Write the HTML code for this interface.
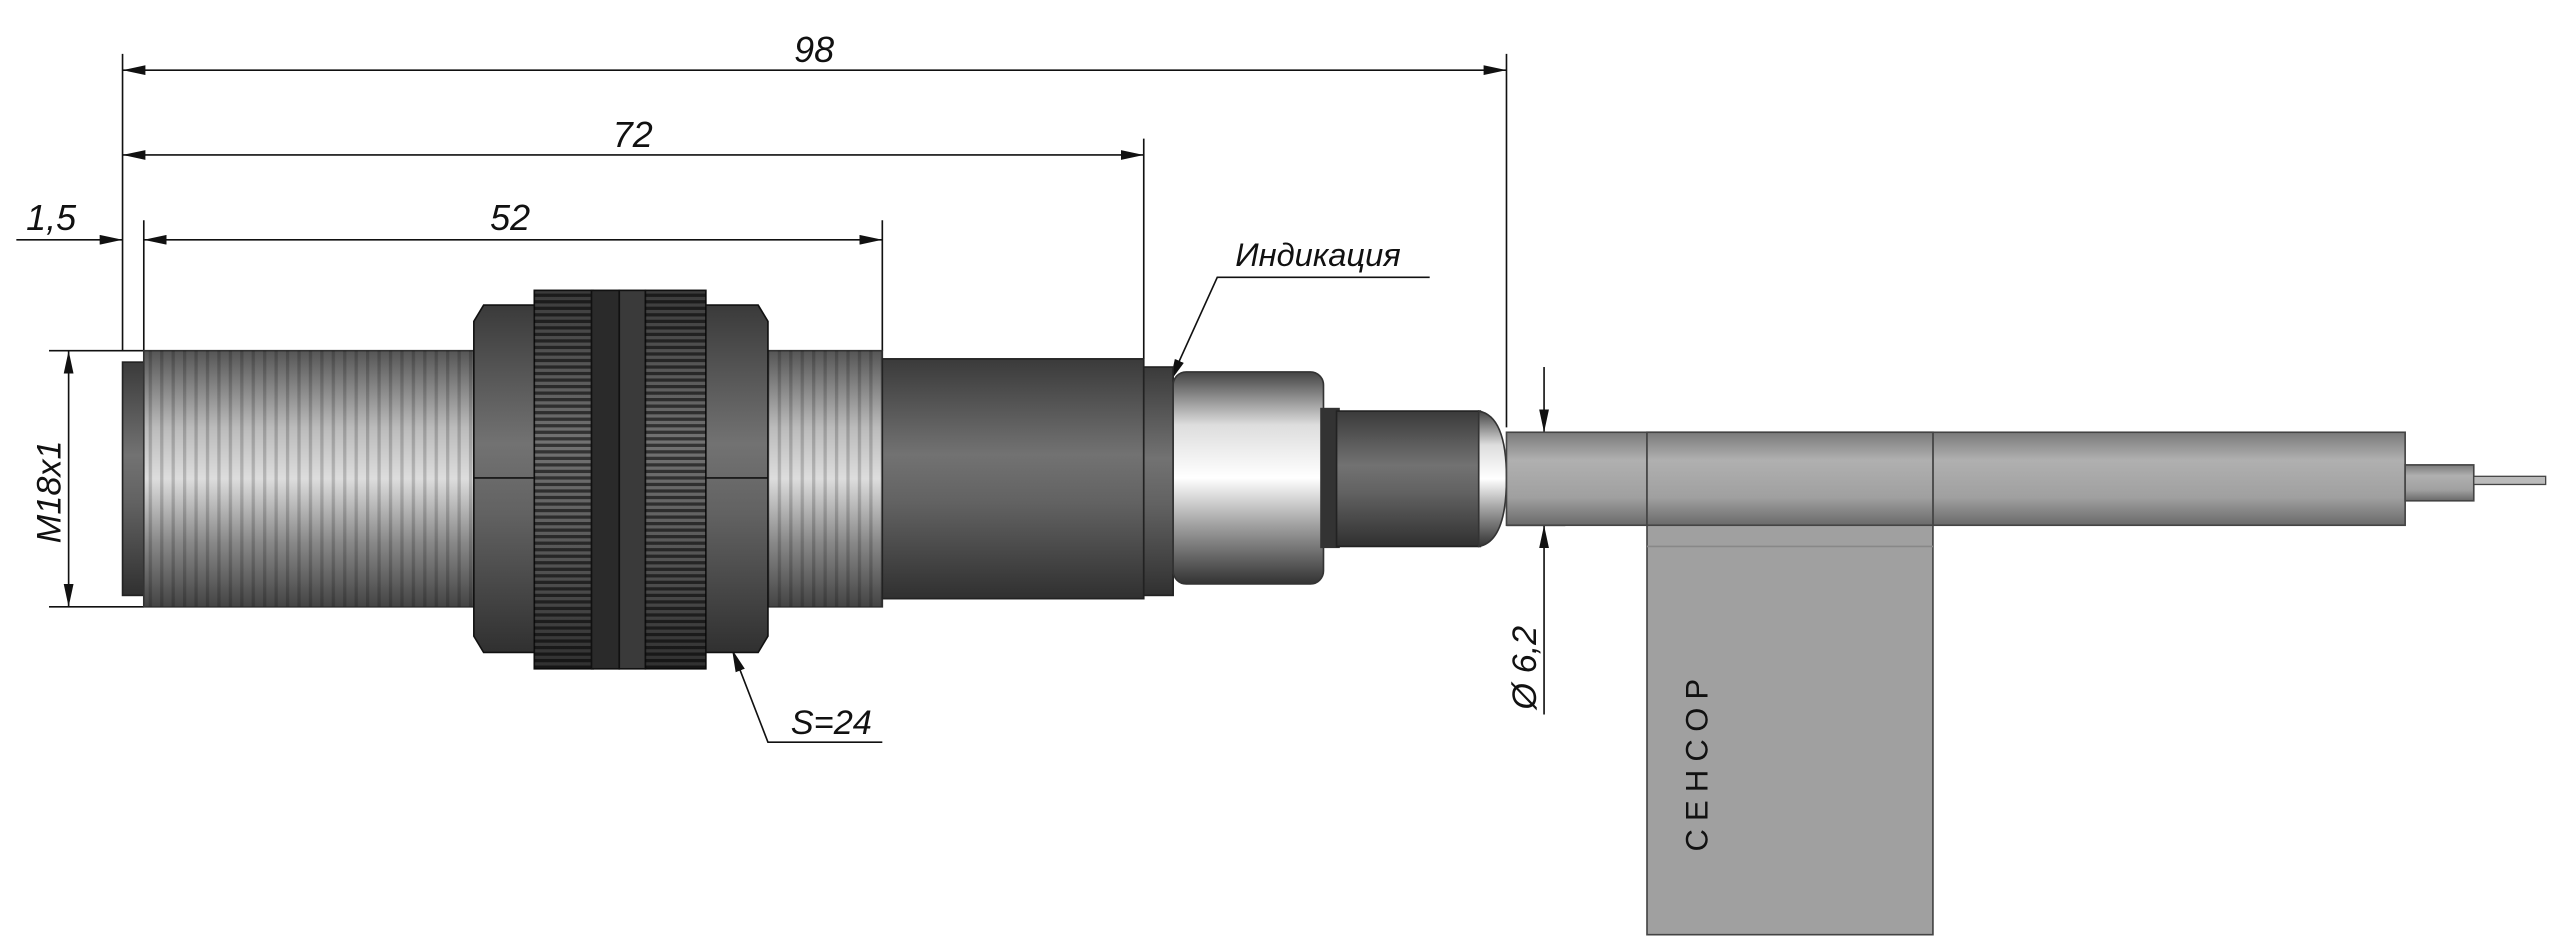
<!DOCTYPE html>
<html><head><meta charset="utf-8"><style>
html,body{margin:0;padding:0;background:#fff;}
svg{display:block;}
text{font-family:"Liberation Sans",sans-serif;font-style:italic;fill:#111;}
</style></head><body>
<svg width="2562" height="951" viewBox="0 0 1568 583" preserveAspectRatio="none" xmlns="http://www.w3.org/2000/svg">
<defs>
<marker id="a" markerWidth="14" markerHeight="6" refX="14" refY="3" orient="auto-start-reverse" markerUnits="userSpaceOnUse"><path d="M0,0 L14,3 L0,6 z" fill="#111"/></marker>
<linearGradient id="cyl" x1="0" y1="0" x2="0" y2="1">
<stop offset="0" stop-color="#555"/><stop offset="0.3" stop-color="#bbb"/><stop offset="0.5" stop-color="#ddd"/><stop offset="0.75" stop-color="#888"/><stop offset="1" stop-color="#444"/></linearGradient>
<linearGradient id="dark" x1="0" y1="0" x2="0" y2="1">
<stop offset="0" stop-color="#3a3a3a"/><stop offset="0.4" stop-color="#727272"/><stop offset="0.6" stop-color="#626262"/><stop offset="1" stop-color="#303030"/></linearGradient>
<linearGradient id="met" x1="0" y1="0" x2="0" y2="1">
<stop offset="0" stop-color="#444"/><stop offset="0.25" stop-color="#ddd"/><stop offset="0.5" stop-color="#fff"/><stop offset="0.7" stop-color="#aaa"/><stop offset="1" stop-color="#333"/></linearGradient>
<linearGradient id="cab" x1="0" y1="0" x2="0" y2="1">
<stop offset="0" stop-color="#7a7a7a"/><stop offset="0.3" stop-color="#b0b0b0"/><stop offset="0.7" stop-color="#a0a0a0"/><stop offset="1" stop-color="#6a6a6a"/></linearGradient>
<pattern id="thr" width="7" height="200" patternUnits="userSpaceOnUse"><rect x="0" width="2" height="200" fill="#000" opacity="0.18"/></pattern>
<pattern id="kn2" width="200" height="4" patternUnits="userSpaceOnUse"><rect y="0" width="200" height="2" fill="#000" opacity="0.55"/></pattern>
</defs>
<g stroke="#111" stroke-width="1" fill="none">
<line x1="75" y1="33" x2="75" y2="215"/><line x1="88" y1="135" x2="88" y2="215"/>
<line x1="540" y1="135" x2="540" y2="215"/><line x1="700" y1="85" x2="700" y2="220"/>
<line x1="922" y1="33" x2="922" y2="262"/>
<line x1="30" y1="215" x2="88" y2="215"/><line x1="30" y1="372" x2="88" y2="372"/>
<line x1="922" y1="265" x2="958" y2="265"/><line x1="922" y1="322" x2="958" y2="322"/>
<line x1="75" y1="43" x2="922" y2="43" marker-start="url(#a)" marker-end="url(#a)"/>
<line x1="75" y1="95" x2="700" y2="95" marker-start="url(#a)" marker-end="url(#a)"/>
<line x1="88" y1="147" x2="540" y2="147" marker-start="url(#a)" marker-end="url(#a)"/>
<line x1="10" y1="147" x2="75" y2="147" marker-end="url(#a)"/>
<line x1="42" y1="215" x2="42" y2="372" marker-start="url(#a)" marker-end="url(#a)"/>
<line x1="945" y1="225" x2="945" y2="265" marker-end="url(#a)"/>
<line x1="945" y1="438" x2="945" y2="322" marker-end="url(#a)"/>
<polyline points="875,170 745,170 716,234" marker-end="url(#a)"/>
<polyline points="540,455 470,455 448,398" marker-end="url(#a)"/>
</g>
<text x="486" y="38" font-size="22">98</text>
<text x="375" y="90" font-size="22">72</text>
<text x="300" y="141" font-size="22">52</text>
<text x="16" y="141" font-size="22">1,5</text>
<text x="756" y="163" font-size="20">Индикация</text>
<text x="484" y="450" font-size="21">S=24</text>
<text transform="translate(37,333) rotate(-90)" font-size="21">M18x1</text>
<text transform="translate(940,435) rotate(-90)" font-size="21">Ø 6,2</text>

<rect x="75" y="222" width="14" height="143" fill="url(#dark)" stroke="#222"/>
<rect x="88" y="215" width="452" height="157" fill="url(#cyl)" stroke="#333"/>
<rect x="88" y="215" width="452" height="157" fill="url(#thr)"/>
<rect x="540" y="220" width="160" height="147" fill="url(#dark)" stroke="#222"/>
<polygon points="296,187 330,187 330,400 296,400 290,390 290,197" fill="url(#dark)" stroke="#111"/>
<polygon points="430,187 464,187 470,197 470,390 464,400 430,400" fill="url(#dark)" stroke="#111"/>
<line x1="290" y1="293" x2="330" y2="293" stroke="#111"/><line x1="430" y1="293" x2="470" y2="293" stroke="#111"/>
<rect x="327" y="178" width="36" height="232" fill="url(#dark)" stroke="#111"/>
<rect x="327" y="178" width="36" height="232" fill="url(#kn2)"/>
<rect x="362" y="178" width="17" height="232" fill="#2a2a2a" stroke="#111"/>
<rect x="379" y="178" width="16" height="232" fill="#3a3a3a" stroke="#111"/>
<rect x="395" y="178" width="37" height="232" fill="url(#dark)" stroke="#111"/>
<rect x="395" y="178" width="37" height="232" fill="url(#kn2)"/>
<rect x="700" y="225" width="18" height="140" fill="url(#dark)" stroke="#222"/>
<rect x="718" y="228" width="92" height="130" rx="8" fill="url(#met)" stroke="#333"/>
<rect x="808" y="250" width="12" height="86" fill="#333"/>
<rect x="818" y="252" width="88" height="83" fill="url(#dark)" stroke="#222"/>
<path d="M905,252 Q922,255 922,293 Q922,332 905,335 z" fill="url(#met)" stroke="#333"/>
<rect x="922" y="265" width="550" height="57" fill="url(#cab)" stroke="#444"/>
<rect x="1472" y="285" width="42" height="22" fill="url(#cab)" stroke="#444"/>
<rect x="1514" y="292" width="44" height="5" fill="#bbb" stroke="#444" stroke-width="0.8"/>
<rect x="1008" y="265" width="175" height="308" fill="#a0a0a0" stroke="#444"/>
<rect x="1008" y="265" width="175" height="57" fill="url(#cab)" stroke="#444"/>
<line x1="1008" y1="335" x2="1183" y2="335" stroke="#888"/>
<text transform="translate(1045,522) rotate(-90)" font-size="19" style="font-style:normal;letter-spacing:5px" fill="#222">СЕНСОР</text>
</svg>
</body></html>
